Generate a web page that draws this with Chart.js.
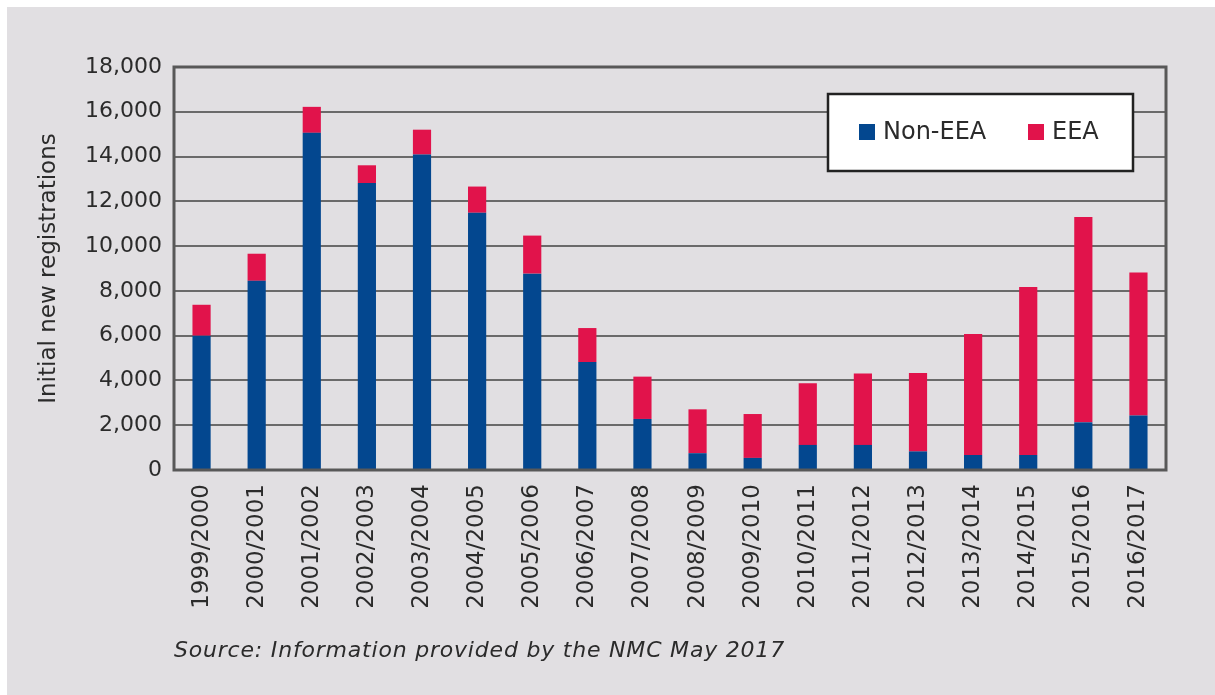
<!DOCTYPE html>
<html>
<head>
<meta charset="utf-8">
<title>Initial new registrations</title>
<script src="https://cdn.jsdelivr.net/npm/chart.js@4.4.1/dist/chart.umd.min.js"></script>
<style>
    html, body { margin: 0; padding: 0; background: #ffffff; }
    #wrap { position: relative; width: 1215px; height: 695px; overflow: hidden; }
    #panel { position: absolute; left: 7px; top: 7px; right: 0; bottom: 0; background: #e1dfe2; }
    #chart { position: absolute; left: 0; top: 0; }
    #source {
        position: absolute; left: 174px; top: 637px;
        font-family: "DejaVu Sans", sans-serif; font-style: italic;
        font-size: 22px; letter-spacing: 0.8px; color: #2b2b2b; white-space: nowrap;
    }
</style>
</head>
<body>
<div id="wrap">
    <div id="panel"></div>
    <canvas id="chart" width="1215" height="695"></canvas>
    <div id="source">Source: Information provided by the NMC May 2017</div>
</div>
<script>
// ---------------------------
// Data
// ---------------------------
const years = [
    "1999/2000", "2000/2001", "2001/2002", "2002/2003", "2003/2004", "2004/2005",
    "2005/2006", "2006/2007", "2007/2008", "2008/2009", "2009/2010", "2010/2011",
    "2011/2012", "2012/2013", "2013/2014", "2014/2015", "2015/2016", "2016/2017"
];
const nonEEA = [6000, 8450, 15060, 12820, 14090, 11490, 8770, 4820, 2280, 750, 540, 1120, 1120, 830, 670, 670, 2130, 2430];
const eea    = [1380, 1210, 1160, 790, 1110, 1170, 1700, 1520, 1890, 1960, 1960, 2760, 3190, 3500, 5400, 7500, 9170, 6390];
const yTicks = [0, 2000, 4000, 6000, 8000, 10000, 12000, 14000, 16000, 18000];

const BLUE = "#03478f";
const RED = "#e1134b";
const INK = "#2b2b2b";
const FONT = "DejaVu Sans";

// ---------------------------
// Plot frame (all four sides)
// ---------------------------
const framePlugin = {
    id: "frame",
    afterDatasetsDraw(chart) {
        const { ctx, chartArea: a } = chart;
        ctx.save();
        ctx.strokeStyle = "#585858";
        ctx.lineWidth = 3;
        ctx.strokeRect(a.left, a.top, a.right - a.left, a.bottom - a.top);
        ctx.restore();
    }
};

// ---------------------------
// Boxed legend inside the plot
// ---------------------------
const boxLegend = {
    id: "boxLegend",
    afterDraw(chart) {
        const ctx = chart.ctx;
        const ds = chart.data.datasets;
        ctx.save();
        ctx.fillStyle = "#ffffff";
        ctx.fillRect(828, 94, 305, 77);
        ctx.strokeStyle = "#222222";
        ctx.lineWidth = 2.5;
        ctx.strokeRect(828, 94, 305, 77);

        const items = [{ sq: 859, tx: 883 }, { sq: 1028, tx: 1052 }];
        ctx.font = "24px '" + FONT + "'";
        ctx.textBaseline = "middle";
        items.forEach((it, i) => {
            ctx.fillStyle = ds[i].backgroundColor;
            ctx.fillRect(it.sq, 124, 16, 16);
            ctx.fillStyle = INK;
            ctx.fillText(ds[i].label, it.tx, 133);
        });
        ctx.restore();
    }
};

// ---------------------------
// Chart
// ---------------------------
const ctx = document.getElementById("chart").getContext("2d");

new Chart(ctx, {
    type: "bar",
    data: {
        labels: years,
        datasets: [
            { label: "Non-EEA", data: nonEEA, backgroundColor: BLUE },
            { label: "EEA", data: eea, backgroundColor: RED }
        ]
    },
    options: {
        responsive: false,
        animation: false,
        layout: { padding: { top: 67, right: 49, bottom: 0, left: 0 } },
        plugins: { legend: { display: false }, tooltip: { enabled: false } },
        datasets: { bar: { categoryPercentage: 1, barPercentage: 0.33 } },
        scales: {
            x: {
                stacked: true,
                grid: { display: false, drawTicks: false },
                border: { display: false },
                ticks: {
                    color: INK,
                    font: { family: FONT, size: 23 },
                    minRotation: 90,
                    maxRotation: 90,
                    autoSkip: false,
                    padding: 14
                },
                afterFit: s => { s.height = 225; }
            },
            y: {
                stacked: true,
                min: 0,
                max: 18000,
                afterBuildTicks: s => { s.ticks = yTicks.map(v => ({ value: v })); },
                grid: { color: "#6a6a6a", lineWidth: 2, drawTicks: false },
                border: { display: false },
                ticks: {
                    color: INK,
                    font: { family: FONT, size: 22 },
                    padding: 12,
                    callback: v => v.toLocaleString("en-US")
                },
                title: {
                    display: true,
                    text: "Initial new registrations",
                    color: INK,
                    font: { family: FONT, size: 23 },
                    padding: { top: 35, bottom: 0 }
                },
                afterFit: s => { s.width = 174; }
            }
        }
    },
    plugins: [framePlugin, boxLegend]
});
</script>
</body>
</html>
